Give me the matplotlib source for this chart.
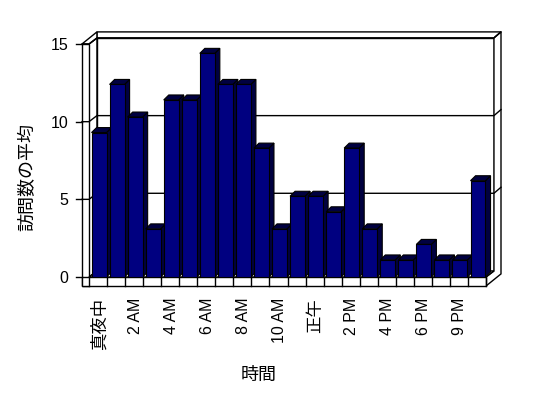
import matplotlib.pyplot as plt
from matplotlib.patches import Polygon, Rectangle

plt.rcParams['font.family'] = ['Liberation Sans', 'Noto Sans CJK JP']

# data
values = [9.3, 12.4, 10.3, 3.1, 11.4, 11.4, 14.4, 12.4, 12.4, 8.3, 3.1,
          5.2, 5.2, 4.2, 8.3, 3.1, 1.1, 1.1, 2.1, 1.1, 1.1, 6.2]
tick_labels = ["真夜中", "2 AM", "4 AM", "6 AM", "8 AM", "10 AM",
               "正午", "2 PM", "4 PM", "6 PM", "9 PM"]
y_ticks = [0, 5, 10, 15]

n = len(values)
ymax = 15

# 3d style offsets (data units)
WX, FY = 0.39, 0.58        # wall / floor thickness
DX, DY = 0.44, 0.39        # depth of plot box
BX, BY = 0.39, 0.39        # back wall thickness
BDX, BDY = 0.28, 0.32      # bar depth
BL, BW = 0.14, 0.83        # bar left offset / width
TL = 0.33                  # tick length

front_col = '#000080'
shade_col = '#000040'

fig = plt.figure(figsize=(5.48, 3.98), dpi=100)
ax = fig.add_axes([0.1624, 0.304, 0.7245, 0.5854])
ax.set_xlim(0, n)
ax.set_ylim(0, ymax)
ax.patch.set_visible(False)
for s in ax.spines.values():
    s.set_visible(False)


def poly(pts, fc='white', lw=1.0, z=1):
    ax.add_patch(Polygon(pts, closed=True, facecolor=fc, edgecolor='black',
                         linewidth=lw, clip_on=False, zorder=z))


def line(xs, ys, z=2):
    ax.plot(xs, ys, color='black', lw=1.0, clip_on=False, zorder=z)


# back wall
poly([(DX, DY), (n + DX, DY), (n + DX, ymax + DY), (DX, ymax + DY)])
poly([(DX, ymax + DY), (n + DX, ymax + DY), (n + DX + BX, ymax + DY + BY),
      (DX + BX - WX, ymax + DY + BY)])
# right side of box
poly([(n, 0), (n, -FY), (n + DX + BX, -FY + DY + BY), (n + DX + BX, ymax + DY + BY),
      (n + DX, ymax + DY), (n + DX, DY)])
# left wall
poly([(0, 0), (DX, DY), (DX, ymax + DY), (0, ymax)])
poly([(-WX, ymax), (0, ymax), (DX, ymax + DY), (DX + BX - WX, ymax + DY + BY)])
poly([(-WX, -FY), (0, -FY), (0, ymax), (-WX, ymax)])
# floor
poly([(0, 0), (n, 0), (n + DX, DY), (DX, DY)])
poly([(-WX, -FY), (n, -FY), (n, 0), (-WX, 0)])

# gridlines and y ticks
for t in y_ticks:
    line([-WX - TL, -WX], [t, t])
    if t == 0:
        continue
    line([-WX, 0, DX, n + DX, n + DX + BX], [t, t, t + DY, t + DY, t + DY + BY])

# category dividers on the floor edge
for i in range(n + 1):
    line([i, i], [0, -FY])

# bars
for i, v in enumerate(values):
    x0 = i + BL
    x1 = x0 + BW
    poly([(x1, 0), (x1 + BDX, BDY), (x1 + BDX, v + BDY), (x1, v)], fc=shade_col, lw=0.8, z=3)
    poly([(x0, v), (x1, v), (x1 + BDX, v + BDY), (x0 + BDX, v + BDY)], fc=shade_col, lw=0.8, z=3)
    ax.add_patch(Rectangle((x0, 0), BW, v, facecolor=front_col, edgecolor='black',
                           linewidth=0.8, zorder=3))

ax.set_yticks(y_ticks)
ax.set_yticklabels([str(t) for t in y_ticks], fontsize=11.5)
ax.set_xticks([i + BL + BW / 2 for i in range(0, n, 2)])
ax.set_xticklabels(tick_labels, rotation=90, fontsize=11.5, va='top', ha='center')
for lab in ax.get_xticklabels():
    if not lab.get_text()[0].isdigit():
        lab.set_fontsize(12.5)
ax.tick_params(axis='y', length=0, pad=15)
ax.tick_params(axis='x', length=0, pad=15)

ax.set_ylabel("訪問数の平均", fontsize=13, va='center')
ax.yaxis.set_label_coords(-0.154, 0.43)
ax.set_xlabel("時間", fontsize=13)
ax.xaxis.set_label_coords(0.426, -0.385)

fig.savefig("out.png", dpi=100)
